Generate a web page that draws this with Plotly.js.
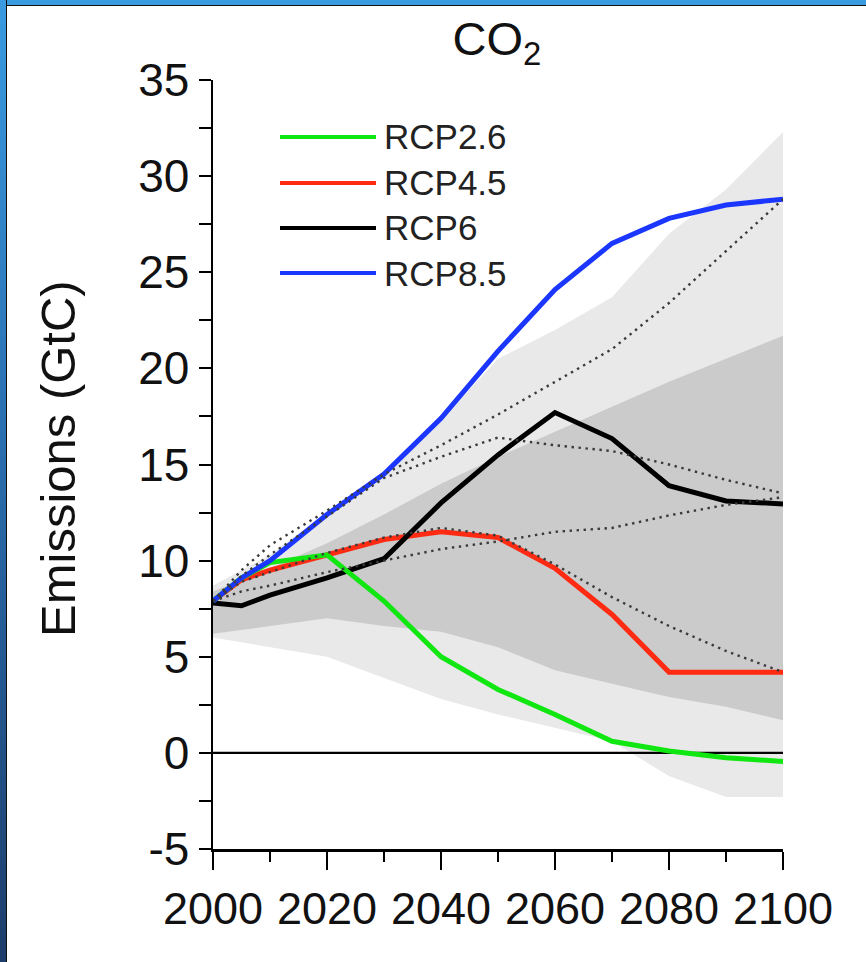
<!DOCTYPE html>
<html>
<head>
<meta charset="utf-8">
<script src="https://cdn.plot.ly/plotly-3.0.1.min.js"></script>
<style>
  html, body { margin: 0; padding: 0; background: #ffffff; }
  #chart { position: absolute; left: 0; top: 0; width: 866px; height: 962px; }
  #frameTop { position: absolute; left: 0; top: 0; width: 866px; height: 5px; background: #3a9be0; border-bottom: 1.5px solid #111; z-index: 5; }
  #frameLeft { position: absolute; left: 0; top: 0; width: 6px; height: 962px; background: linear-gradient(#3a9be0, #2a6fb0 45%, #1d3d6b); border-right: 1.5px solid #111; z-index: 5; }
</style>
</head>
<body>
<div id="chart"></div>
<div id="frameTop"></div>
<div id="frameLeft"></div>
<script>
// ---- data ----
const rcpYears = [2000, 2005, 2010, 2020, 2030, 2040, 2050, 2060, 2070, 2080, 2090, 2100];
const seriesNames = ['RCP2.6', 'RCP4.5', 'RCP6', 'RCP8.5'];
const rcp26 = [7.9, 9.1, 9.9, 10.3, 7.9, 5.0, 3.3, 2.0, 0.6, 0.1, -0.25, -0.45];
const rcp45 = [7.9, 9.0, 9.5, 10.3, 11.1, 11.5, 11.2, 9.6, 7.2, 4.2, 4.2, 4.2];
const rcp6  = [7.8, 7.65, 8.2, 9.1, 10.1, 13.0, 15.5, 17.7, 16.35, 13.9, 13.1, 12.95];
const rcp85 = [7.9, 9.1, 10.0, 12.4, 14.5, 17.4, 20.9, 24.1, 26.5, 27.8, 28.5, 28.8];

const bandYears = [2000, 2010, 2020, 2030, 2040, 2050, 2060, 2070, 2080, 2090, 2100];
const outerUpper = [8.7, 10.3, 12.5, 14.5, 17.3, 20.5, 22.0, 23.7, 27.0, 29.3, 32.3];
const outerLower = [6.0, 5.5, 5.0, 3.9, 2.8, 2.0, 1.3, 0.6, -1.2, -2.3, -2.3];
const innerUpper = [8.4, 9.6, 10.9, 12.4, 14.0, 15.4, 16.7, 18.0, 19.3, 20.5, 21.7];
const innerLower = [6.2, 6.6, 7.0, 6.6, 6.3, 5.5, 4.3, 3.6, 2.9, 2.4, 1.7];

const dotYears = [2000, 2005, 2010, 2020, 2030, 2040, 2050, 2060, 2070, 2080, 2090, 2100];
const dottedA = [7.9, 9.5, 10.8, 12.6, 14.5, 16.0, 17.6, 19.3, 21.0, 23.4, 26.1, 28.8];
const dottedB = [7.9, 9.2, 10.3, 12.3, 14.3, 15.4, 16.4, 16.0, 15.7, 15.0, 14.2, 13.5];
const dottedC = [7.9, 8.4, 8.7, 9.4, 10.0, 10.6, 11.0, 11.5, 11.7, 12.35, 12.9, 13.3];
const dottedD = [7.9, 8.9, 9.4, 10.4, 11.2, 11.7, 11.3, 9.8, 8.1, 6.6, 5.3, 4.2];

const zeroYears = [2000, 2100];
const zeroValues = [0, 0];

const xTickVals = [2000, 2020, 2040, 2060, 2080, 2100];
const xTickText = ['2000', '2020', '2040', '2060', '2080', '2100'];
const yTickVals = [-5, 0, 5, 10, 15, 20, 25, 30, 35];
const yTickText = ['-5', '0', '5', '10', '15', '20', '25', '30', '35'];

// ---- styles ----
const FONT = 'Liberation Sans, Arial, Helvetica, sans-serif';
const colors = ['#10e610', '#ff2a12', '#000000', '#1a36ff'];
const rcpData = [rcp26, rcp45, rcp6, rcp85];

const traces = [];
// outer band
traces.push({x: bandYears, y: outerLower, mode: 'lines', line: {width: 0, color: 'rgba(0,0,0,0)'}, showlegend: false, hoverinfo: 'skip'});
traces.push({x: bandYears, y: outerUpper, mode: 'lines', fill: 'tonexty', fillcolor: '#e9e9e9', line: {width: 0, color: 'rgba(0,0,0,0)'}, showlegend: false, hoverinfo: 'skip'});
// inner band
traces.push({x: bandYears, y: innerLower, mode: 'lines', line: {width: 0, color: 'rgba(0,0,0,0)'}, showlegend: false, hoverinfo: 'skip'});
traces.push({x: bandYears, y: innerUpper, mode: 'lines', fill: 'tonexty', fillcolor: '#cbcbcb', line: {width: 0, color: 'rgba(0,0,0,0)'}, showlegend: false, hoverinfo: 'skip'});
// zero line
traces.push({x: zeroYears, y: zeroValues, mode: 'lines', line: {width: 2.2, color: '#000'}, showlegend: false, hoverinfo: 'skip'});
// RCP lines (draw order: 4.5, 6, 2.6, 8.5)
[1, 2, 0, 3].forEach(i => {
  traces.push({x: rcpYears, y: rcpData[i], name: seriesNames[i], mode: 'lines',
    line: {width: 5, color: colors[i]}, showlegend: false});
});
// dotted lines
[dottedA, dottedB, dottedC, dottedD].forEach(d => {
  traces.push({x: dotYears, y: d, mode: 'lines', line: {width: 2.4, color: '#3a3a3a', dash: '2.4px,4.6px'}, showlegend: false, hoverinfo: 'skip'});
});

// manual legend
const L = 213, R = 783, T = 80, B = 849;
const px2x = px => (px - L) / (R - L);
const py2y = py => (B - py) / (B - T);
const legendRows = [137, 183, 228, 273];
const shapes = [];
const annotations = [];
seriesNames.forEach((n, i) => {
  shapes.push({type: 'line', xref: 'paper', yref: 'paper', x0: px2x(280), x1: px2x(376), y0: py2y(legendRows[i]), y1: py2y(legendRows[i]), line: {color: colors[i], width: 4}});
  annotations.push({xref: 'paper', yref: 'paper', x: px2x(382), y: py2y(legendRows[i]), xanchor: 'left', yanchor: 'middle', text: n, showarrow: false, font: {family: FONT, size: 35, color: '#222'}});
});
// y axis title
annotations.push({xref: 'paper', yref: 'paper', x: px2x(58), y: py2y(459), xanchor: 'center', yanchor: 'middle', textangle: -90, text: 'Emissions (GtC)', showarrow: false, font: {family: FONT, size: 49, color: '#111'}});

const layout = {
  width: 866, height: 962,
  margin: {l: L, r: 866 - R, t: T, b: 962 - B, pad: 0},
  paper_bgcolor: '#ffffff', plot_bgcolor: '#ffffff',
  showlegend: false,
  title: {text: 'CO<sub>2</sub>', x: 497 / 866, xanchor: 'center', y: 1 - 22 / 962, yanchor: 'top', font: {family: FONT, size: 47, color: '#111'}},
  xaxis: {
    range: [2000, 2100], showgrid: false, zeroline: false,
    showline: true, linecolor: '#000', linewidth: 2.5,
    tickmode: 'array', tickvals: xTickVals, ticktext: xTickText, ticks: 'outside', ticklen: 18, tickwidth: 2, tickcolor: '#000',
    minor: {dtick: 10, tick0: 2000, ticks: 'outside', ticklen: 10, tickwidth: 2, tickcolor: '#000', showgrid: false},
    tickfont: {family: FONT, size: 45, color: '#111'}, fixedrange: true
  },
  yaxis: {
    range: [-5, 35], showgrid: false, zeroline: false,
    showline: true, linecolor: '#000', linewidth: 2.5,
    tickmode: 'array', tickvals: yTickVals, ticktext: yTickText, ticks: 'outside', ticklen: 12, tickwidth: 2, tickcolor: '#000',
    minor: {dtick: 2.5, tick0: 0, ticks: 'outside', ticklen: 12, tickwidth: 2, tickcolor: '#000', showgrid: false},
    tickfont: {family: FONT, size: 46, color: '#111'}, fixedrange: true
  },
  shapes: shapes,
  annotations: annotations
};

Plotly.newPlot('chart', traces, layout, {displayModeBar: false, staticPlot: true});
</script>
</body>
</html>
